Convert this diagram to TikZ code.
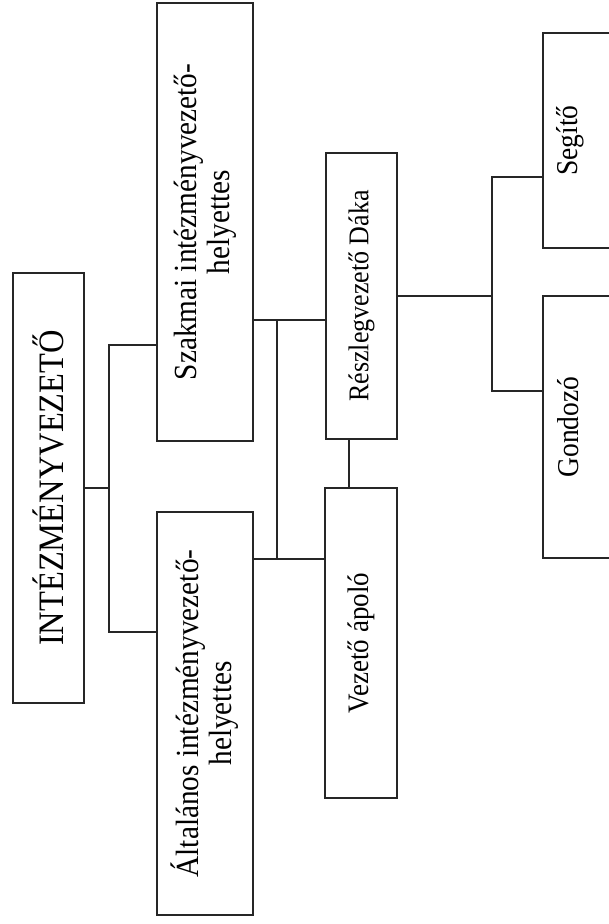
\documentclass[tikz,border=0pt]{standalone}
\usepackage{fontspec}
\usepackage{graphicx}
\setmainfont{Liberation Serif}
% slightly taller letter forms
\newcommand\tallline[1]{\scalebox{1}[1.1]{#1}}
\begin{document}
\begin{tikzpicture}[x=1pt,y=-1pt,
  orgbox/.style={draw=black!85, line width=1.5pt, rotate=90, inner sep=0pt,
                 align=center, fill=white},
  link/.style={draw=black!85, line width=1.3pt}]
\useasboundingbox (0,0) rectangle (609,924);
\clip (0,0) rectangle (609,924);

% top level
\node[orgbox, minimum width=430pt, minimum height=71pt,
      font=\fontsize{32.5}{36}\selectfont] (boss) at (48.5,488)
      {\tallline{INTÉZMÉNYVEZETŐ}};

% deputies
\node[orgbox, minimum width=438pt, minimum height=96pt,
      font=\fontsize{29.3}{33}\selectfont] (szakmai) at (205,222)
      {\tallline{Szakmai intézményvezető-}\\\tallline{helyettes}};
\node[orgbox, minimum width=403pt, minimum height=96pt,
      font=\fontsize{29.3}{33}\selectfont] (altalanos) at (205,713.5)
      {\tallline{Általános intézményvezető-}\\\tallline{helyettes}};

% heads
\node[orgbox, minimum width=286pt, minimum height=71pt,
      font=\fontsize{26}{30}\selectfont] (reszleg) at (361.5,296)
      {\tallline{Részlegvezető Dáka}};
\node[orgbox, minimum width=310pt, minimum height=72pt,
      font=\fontsize{27}{30}\selectfont] (vezeto) at (361,643)
      {\tallline{Vezető ápoló}};

% staff (boxes run past the right edge)
\node[orgbox, anchor=base, text height=34pt, text depth=105pt, minimum width=215pt,
      font=\fontsize{27.5}{30}\selectfont] (segito) at (577,140.5) {\tallline{Segítő}};
\node[orgbox, anchor=base, text height=35pt, text depth=105pt, minimum width=262pt,
      font=\fontsize{27.5}{30}\selectfont] (gondozo) at (578,427) {\tallline{Gondozó}};

% connectors: director to deputies
\coordinate (j1) at (109,488);
\coordinate (s1) at (0,345);
\coordinate (s2) at (0,632);
\draw[link] (boss.south |- j1) -- (j1);
\draw[link] (szakmai.north |- s1) -| (j1);
\draw[link] (altalanos.north |- s2) -| (j1);

% deputies to heads
\coordinate (k1) at (277,320);
\coordinate (k2) at (277,559);
\draw[link] (szakmai.south |- k1) -- (reszleg.north |- k1);
\draw[link] (altalanos.south |- k2) -- (vezeto.north |- k2);
\draw[link] (k1) -- (k2);

% head nurse to unit head
\coordinate (v1) at (349,0);
\draw[link] (reszleg.west -| v1) -- (vezeto.east -| v1);

% unit head to staff
\coordinate (j4) at (492,296);
\coordinate (g1) at (0,177);
\coordinate (g2) at (0,391);
\draw[link] (reszleg.south |- j4) -- (j4);
\draw[link] (segito.north |- g1) -| (j4);
\draw[link] (gondozo.north |- g2) -| (j4);
\end{tikzpicture}
\end{document}
